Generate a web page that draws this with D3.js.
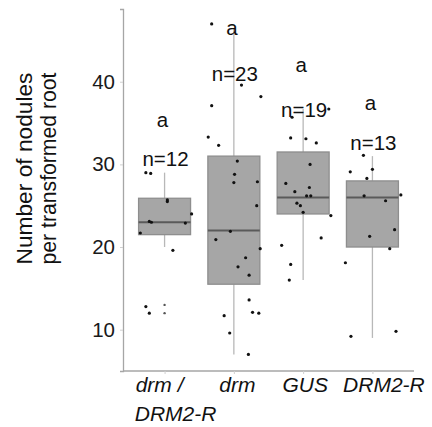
<!DOCTYPE html>
<html>
<head>
<meta charset="utf-8">
<script src="https://cdn.jsdelivr.net/npm/d3@7"></script>
<style>
  body { margin: 0; background: #fff; }
  svg, svg text { font-family: Arial, "Liberation Sans", Arimo, Helvetica, sans-serif; }
</style>
</head>
<body>
<div id="chart"></div>
<script>
const FONT = 'Arial, "Liberation Sans", Arimo, Helvetica, sans-serif';

// groups
const groups = ["drm / DRM2-R", "drm", "GUS", "DRM2-R"];
const labelLines = [["drm /", "DRM2-R"], ["drm"], ["GUS"], ["DRM2-R"]];

// box stats
const whiskerLow  = [20, 7, 16, 9];
const q1          = [21.5, 15.5, 24, 20];
const median      = [23, 22, 26, 26];
const q3          = [25.9, 31, 31.5, 28];
const whiskerHigh = [29, 46.5, 36.7, 31];
const outliers    = [[13, 12], [], [], []];

// jittered raw points: value and horizontal jitter (fraction of step)
const values = [
  [29.0, 28.9, 25.7, 25.5, 23.1, 23.0, 21.7, 22.9, 24.0, 19.6, 12.8, 12.0],
  [47.0, 39.6, 38.2, 37.1, 33.3, 32.3, 30.4, 28.8, 27.8, 27.9, 25.0, 21.9,
   20.9, 19.8, 18.7, 17.6, 16.6, 13.6, 12.1, 12.0, 11.7, 9.6, 7.0],
  [35.7, 36.7, 33.2, 33.1, 32.6, 30.0, 27.7, 27.2, 26.7, 26.2, 26.2, 25.3,
   25.0, 24.2, 23.8, 21.1, 20.2, 17.9, 16.0],
  [31.1, 29.1, 29.4, 28.3, 26.2, 26.3, 25.6, 22.1, 21.3, 19.8, 18.1, 9.8, 9.2]
];
const jitter = [
  [-0.27, -0.20, 0.04, 0.04, -0.22, -0.19, -0.35, 0.30, 0.39, 0.12, -0.27, -0.22],
  [-0.32, 0.11, 0.39, -0.32, -0.37, -0.22, 0.05, 0.01, 0.00, 0.34, 0.33, -0.05,
   -0.26, 0.38, 0.17, 0.06, 0.22, 0.22, 0.27, 0.36, -0.14, -0.06, 0.21],
  [-0.16, 0.37, -0.18, 0.04, 0.19, 0.10, -0.25, 0.09, -0.12, 0.05, 0.11, -0.09,
   -0.04, 0.00, 0.40, 0.26, -0.31, -0.18, -0.20],
  [-0.13, -0.32, 0.00, -0.08, -0.12, 0.41, 0.19, 0.32, -0.04, 0.25, -0.39, 0.34, -0.31]
];

// annotations
const letters = ["a", "a", "a", "a"];
const letterY = [34.5, 45.6, 41.2, 36.6];
const countY  = [29.8, 40.1, 35.7, 31.8];
const yTicks  = [10, 20, 30, 40];

const W = 432, H = 427;
const svg = d3.select("#chart").append("svg")
    .attr("width", W).attr("height", H)
    .style("font-family", FONT);

const x = d3.scalePoint()
    .domain(groups)
    .range([123, 414])
    .padding(0.6);
const step = x.step();
const boxW = step * 0.75;

const y = d3.scaleLinear()
    .domain([5, 48.8])
    .range([371, 9]);

// Y axis
const yAxis = svg.append("g")
    .attr("transform", "translate(123,0)")
    .call(d3.axisLeft(y).tickValues(yTicks).tickSize(3).tickPadding(5));
yAxis.attr("font-family", null);
yAxis.select(".domain").attr("stroke", "#a6a6a6").attr("stroke-width", 1.3);
yAxis.selectAll(".tick line").attr("stroke", "#d0d0d0");
yAxis.selectAll(".tick text")
    .attr("fill", "#1a1a1a")
    .style("font-family", FONT)
    .style("font-size", "20.5px");

// X axis
const xAxis = svg.append("g")
    .attr("transform", "translate(0,371)")
    .call(d3.axisBottom(x).tickSize(3).tickFormat(""));
xAxis.select(".domain").attr("stroke", "#a6a6a6").attr("stroke-width", 1.3)
    .attr("d", "M123,0H414");
xAxis.selectAll(".tick line").attr("stroke", "#d0d0d0");

// X labels
const labelShift = [[-5, 11], [3.5], [2], [11.5]];
groups.forEach((g, i) => {
  labelLines[i].forEach((line, j) => {
    svg.append("text")
      .attr("x", x(g) + labelShift[i][j])
      .attr("y", 392 + j * 29)
      .attr("text-anchor", "middle")
      .attr("fill", "#111")
      .style("font-family", FONT)
      .style("font-size", "21px")
      .style("font-style", "italic")
      .text(line);
  });
});

// Y title
const title = svg.append("text")
    .attr("transform", "translate(0,168.5) rotate(-90)")
    .attr("text-anchor", "middle")
    .attr("fill", "#111")
    .style("font-family", FONT)
    .style("font-size", "21.5px");
title.append("tspan").attr("x", 0).attr("y", 32)
    .attr("textLength", 192).attr("lengthAdjust", "spacingAndGlyphs")
    .text("Number of nodules");
title.append("tspan").attr("x", 0).attr("y", 56)
    .attr("textLength", 192).attr("lengthAdjust", "spacingAndGlyphs")
    .text("per transformed root");

// boxes
const boxes = svg.append("g");
groups.forEach((g, i) => {
  const cx = x(g);
  boxes.append("line")
    .attr("x1", cx).attr("x2", cx)
    .attr("y1", y(whiskerHigh[i])).attr("y2", y(q3[i]))
    .attr("stroke", "#b8b8b8").attr("stroke-width", 1.3);
  boxes.append("line")
    .attr("x1", cx).attr("x2", cx)
    .attr("y1", y(q1[i])).attr("y2", y(whiskerLow[i]))
    .attr("stroke", "#b8b8b8").attr("stroke-width", 1.3);
  boxes.append("rect")
    .attr("x", cx - boxW / 2).attr("width", boxW)
    .attr("y", y(q3[i])).attr("height", y(q1[i]) - y(q3[i]))
    .attr("fill", "#a6a6a6").attr("stroke", "#8e8e8e").attr("stroke-width", 1.3);
  boxes.append("line")
    .attr("x1", cx - boxW / 2).attr("x2", cx + boxW / 2)
    .attr("y1", y(median[i])).attr("y2", y(median[i]))
    .attr("stroke", "#5a5a5a").attr("stroke-width", 2);
  boxes.selectAll(null)
    .data(outliers[i])
    .enter().append("circle")
      .attr("cx", cx).attr("cy", d => y(d))
      .attr("r", 1.2).attr("fill", "#555");
});

// jittered points
groups.forEach((g, i) => {
  svg.append("g").selectAll("circle")
    .data(values[i].map((v, k) => ({ v, j: jitter[i][k] })))
    .enter().append("circle")
      .attr("cx", d => x(g) + d.j * step)
      .attr("cy", d => y(d.v))
      .attr("r", 1.6)
      .attr("fill", "#111");
});

// annotations
groups.forEach((g, i) => {
  svg.append("text")
    .attr("x", x(g) - 2).attr("y", y(letterY[i]))
    .attr("text-anchor", "middle").attr("fill", "#111")
    .style("font-family", FONT)
    .style("font-size", "20.5px")
    .text(letters[i]);
  svg.append("text")
    .attr("x", x(g) + 1).attr("y", y(countY[i]))
    .attr("text-anchor", "middle").attr("fill", "#111")
    .style("font-family", FONT)
    .style("font-size", "20.5px")
    .text("n=" + values[i].length);
});
</script>
</body>
</html>
